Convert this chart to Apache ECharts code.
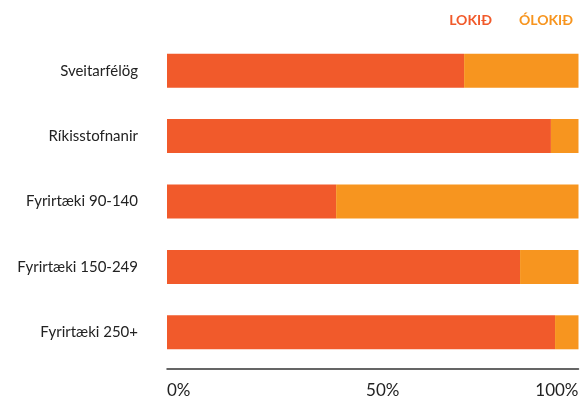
<!DOCTYPE html>
<html>
<head>
<meta charset="utf-8">
<script src="https://cdn.jsdelivr.net/npm/echarts@6/dist/echarts.min.js"></script>
<style>
  html, body { margin: 0; padding: 0; background: #fff; }
  #chart { width: 583px; height: 400px; }
</style>
</head>
<body>
<div id="chart"></div>
<script>
const categories = ['Sveitarfélög', 'Ríkisstofnanir', 'Fyrirtæki 90-140', 'Fyrirtæki 150-249', 'Fyrirtæki 250+'];
const lokid = [72.2, 93.3, 41.1, 85.8, 94.3];
const olokid = [27.8, 6.7, 58.9, 14.2, 5.7];
const seriesNames = ['LOKIÐ', 'ÓLOKIÐ'];
const colors = ['#f15a2b', '#f7951f'];

const chart = echarts.init(document.getElementById('chart'));

const option = {
  animation: false,
  legend: {
    right: 5,
    top: 8,
    icon: 'none',
    itemWidth: 0,
    itemGap: 22,
    data: seriesNames.map((n, i) => ({
      name: n,
      textStyle: { color: colors[i] }
    })),
    textStyle: { fontFamily: 'Lato', fontWeight: 'bold', fontSize: 14 }
  },
  grid: { left: 167, right: 4.5, top: 38, bottom: 35 },
  xAxis: {
    type: 'value',
    min: 0,
    max: 100,
    interval: 50,
    offset: 4,
    splitLine: { show: false },
    axisTick: { show: false },
    axisLine: { show: true, lineStyle: { color: '#333', width: 1.5 } },
    axisLabel: {
      margin: 13,
      fontFamily: 'Lato',
      fontSize: 17,
      color: '#222',
      alignMinLabel: 'left',
      alignMaxLabel: 'right',
      formatter: v => (v === 50 ? '{m|50%}' : v + '%'),
      rich: { m: { padding: [0, 0, 0, 20], fontSize: 17, fontFamily: 'Lato', color: '#222' } }
    }
  },
  yAxis: {
    type: 'category',
    inverse: true,
    data: categories,
    axisLine: { show: false },
    axisTick: { show: false },
    axisLabel: { margin: 29, fontFamily: 'Lato', fontSize: 15, color: '#222' }
  },
  series: [
    {
      name: seriesNames[0],
      type: 'bar',
      stack: 'total',
      barWidth: 34,
      itemStyle: { color: colors[0] },
      data: lokid
    },
    {
      name: seriesNames[1],
      type: 'bar',
      stack: 'total',
      barWidth: 34,
      itemStyle: { color: colors[1] },
      data: olokid
    }
  ]
};

chart.setOption(option);
</script>
</body>
</html>
